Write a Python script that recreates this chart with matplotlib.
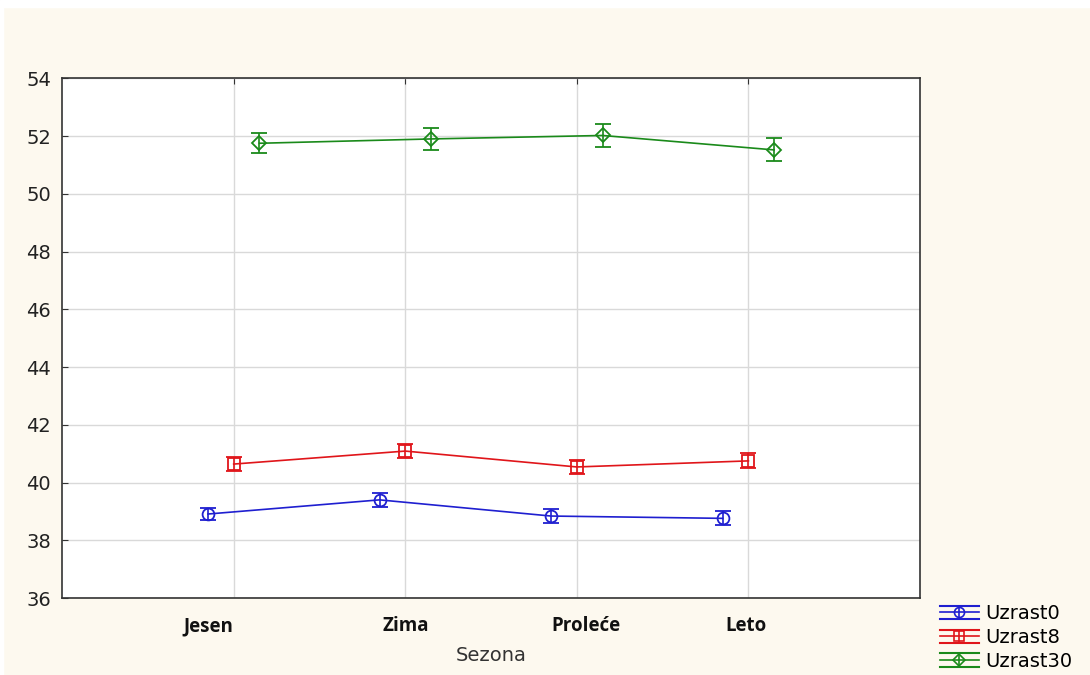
import numpy as np
import matplotlib
matplotlib.use("Agg")
import matplotlib.pyplot as plt
import matplotlib.transforms as mtransforms
from matplotlib.lines import Line2D
from matplotlib.legend_handler import HandlerBase
from matplotlib.patches import Rectangle

seasons = ["Jesen", "Zima", "Proleće", "Leto"]
series = ["Uzrast0", "Uzrast8", "Uzrast30"]
means = {
    "Uzrast0": [38.91, 39.40, 38.84, 38.76],
    "Uzrast8": [40.64, 41.09, 40.54, 40.75],
    "Uzrast30": [51.75, 51.90, 52.02, 51.52],
}
errs = {
    "Uzrast0": [0.22, 0.25, 0.24, 0.24],
    "Uzrast8": [0.24, 0.25, 0.25, 0.26],
    "Uzrast30": [0.35, 0.38, 0.40, 0.40],
}
colors = {"Uzrast0": "#1f1fd0", "Uzrast8": "#e0151a", "Uzrast30": "#1a8a1a"}
markers = {"Uzrast0": "o", "Uzrast8": "s", "Uzrast30": "D"}
offsets = {"Uzrast0": -0.15, "Uzrast8": 0.0, "Uzrast30": 0.15}


class EBHandler(HandlerBase):
    # statistica-style legend key: line + marker, with long bars above and below
    def create_artists(self, legend, orig, xd, yd, w, h, fs, trans):
        c = orig.get_color()
        x0, x1 = -xd, -xd + w
        yc = -yd + h / 2
        dy = h * 0.5
        xm = (x0 + x1) / 2
        arts = [
            Line2D([x0, x1], [yc, yc], color=c, lw=1.2),
            Line2D([x0, x1], [yc + dy, yc + dy], color=c, lw=1.5),
            Line2D([x0, x1], [yc - dy, yc - dy], color=c, lw=1.5),
            Line2D([xm, xm], [yc - dy, yc + dy], color=c, lw=1.2),
            Line2D([xm], [yc], marker=orig.get_marker(), ms=orig.get_markersize() * 0.85,
                   mfc="none", mec=c, mew=1.2),
        ]
        for a in arts:
            a.set_transform(trans)
        return arts


bg = "#fdf9ef"
fig = plt.figure(figsize=(10.9, 6.75), dpi=100, facecolor=bg)
fig.patches.append(Rectangle((0, 0.99), 1, 0.01, transform=fig.transFigure, color="white", zorder=0))
fig.patches.append(Rectangle((0, 0), 0.003, 1, transform=fig.transFigure, color="white", zorder=0))
ax = fig.add_axes([0.057, 0.114, 0.787, 0.770])
ax.set_facecolor("white")

x = np.arange(len(seasons))
handles = []
for s in series:
    c = colors[s]
    ms = 8.5 if markers[s] != "D" else 7.5
    ax.errorbar(x + offsets[s], means[s], yerr=errs[s], color=c, lw=1.2,
                marker=markers[s], ms=ms, mfc="none", mec=c, mew=1.3,
                capsize=5.5, capthick=1.3, elinewidth=1.2, zorder=3)
    handles.append(Line2D([], [], color=c, marker=markers[s], ms=ms, label=s))

ax.set_xlim(-1, 4)
ax.set_ylim(36, 54)
ax.set_yticks(np.arange(36, 55, 2))
ax.set_xticks(x)
ax.set_xticklabels(seasons, fontfamily="Open Sans", fontweight="bold", fontsize=13.5)
ax.grid(True, color="#d9d9d9", lw=1)
ax.set_axisbelow(True)
ax.tick_params(axis="y", direction="in", length=4, labelsize=14, colors="#333333",
               labelcolor="#222222", pad=8)
ax.tick_params(axis="x", direction="in", length=4, top=True, bottom=False, pad=13,
               colors="#333333", labelcolor="#111111")
for lab in ax.get_yticklabels():
    lab.set_fontfamily("DejaVu Sans")
# the season labels in the original sit a little off their grid lines
label_shift = [-25, 0, 9, -2]
for lab, dx in zip(ax.get_xticklabels(), label_shift):
    lab.set_transform(lab.get_transform() + mtransforms.ScaledTranslation(dx / 100, 0, fig.dpi_scale_trans))
for sp in ax.spines.values():
    sp.set_color("#333333")
    sp.set_linewidth(1.2)

ax.set_xlabel("Sezona", fontfamily="DejaVu Sans", fontsize=14, color="#333333", labelpad=7)

ax.legend(handles=handles, loc="upper left", bbox_to_anchor=(1.023, -0.012), frameon=False,
          prop={"family": "DejaVu Sans", "size": 14}, handlelength=2.0,
          handletextpad=0.35, labelspacing=0.25, borderpad=0, borderaxespad=0,
          handler_map={Line2D: EBHandler()})

fig.savefig("out.png", dpi=100, facecolor=bg)
